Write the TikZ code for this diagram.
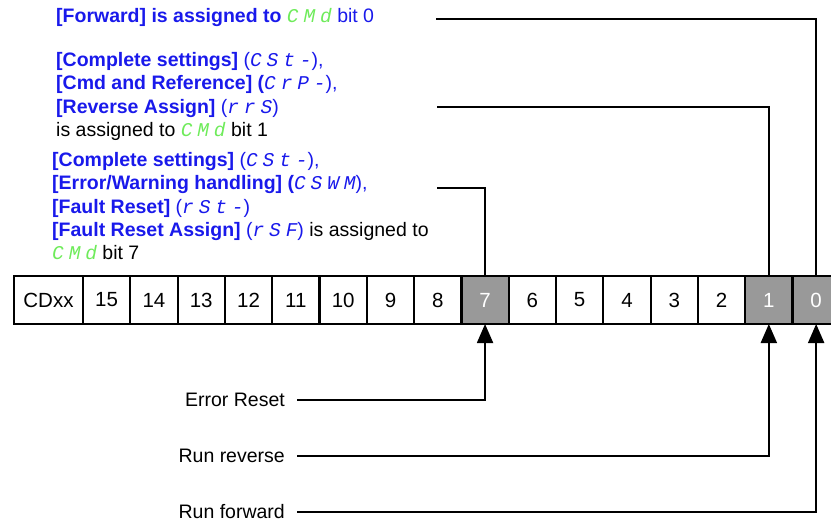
\documentclass[tikz,border=0pt]{standalone}
\usepackage{fontspec}
\setmainfont{Liberation Sans}
\newfontfamily\segfont{Liberation Mono}[LetterSpace=25]
\usetikzlibrary{positioning,arrows.meta}
\definecolor{codeblue}{RGB}{25,25,235}
\definecolor{codegreen}{RGB}{110,235,90}
\definecolor{bitgray}{RGB}{153,153,153}
\newcommand{\seg}[1]{{\segfont\itshape #1}}
\tikzset{%
  bitcell/.style={draw,line width=2.2pt,outer sep=0,inner sep=0,minimum width=47.3pt,minimum height=48pt,font=\fontsize{20.5}{24}\selectfont},
  setbit/.style={bitcell,fill=bitgray,text=white},
  note/.style={anchor=north west,align=left,inner sep=0,text=codeblue,font=\fontsize{19.5}{23.4}\selectfont},
  sig/.style={anchor=east,inner xsep=12pt,inner ysep=0,font=\fontsize{19.5}{23.4}\selectfont},
  wire/.style={line width=2pt},
  uparrow/.style={wire,-{Triangle[width=16pt,length=19pt]}}
}

\begin{document}
\begin{tikzpicture}[x=1pt,y=-1pt]
  \useasboundingbox (0,0) rectangle (831,523);
  % register
  \node[bitcell,minimum width=69pt,anchor=north west] (bCD) at (14,276) {CDxx};
  \node[bitcell,right=0pt of bCD] (b15) {15};
  \foreach \i in {14,...,0}{
    \pgfmathtruncatemacro\prev{\i+1}
    \ifnum\i=7 \def\cellstyle{setbit}\else\ifnum\i<2 \def\cellstyle{setbit}\else\def\cellstyle{bitcell}\fi\fi
    \node[\cellstyle,right=0pt of b\prev] (b\i) {\i};
  }
  % parameters
  \node[note] (fwdNote) at (56,8)
    {\textbf{[Forward] is assigned to} \textcolor{codegreen}{\seg{CMd}} bit 0};
  \node[note] (revNote) at (56,52)
    {\textbf{[Complete settings]} (\seg{CSt-}),\\
     \textbf{[Cmd and Reference] (}\seg{CrP-}),\\
     \textbf{[Reverse Assign]} (\seg{rrS})\\
     \textcolor{black}{is assigned to} \textcolor{codegreen}{\seg{CMd}} \textcolor{black}{bit 1}};
  \node[note] (rstNote) at (52,152)
    {\textbf{[Complete settings]} (\seg{CSt-}),\\
     \textbf{[Error/Warning handling] (}\seg{CSWM}),\\
     \textbf{[Fault Reset]} (\seg{rSt-})\\
     \textbf{[Fault Reset Assign]} (\seg{rSF}) \textcolor{black}{is assigned to}\\
     \textcolor{codegreen}{\seg{CMd}} \textcolor{black}{bit 7}};
  \coordinate (fwdTap) at (436,19);
  \coordinate (revTap) at (437,107);
  \coordinate (rstTap) at (437,188);
  \draw[wire] (fwdTap) -| (b0.north);
  \draw[wire] (revTap) -| (b1.north);
  \draw[wire] (rstTap) -| (b7.north);
  % commands
  \node[sig] (errReset) at (297,400) {Error Reset};
  \node[sig] (runRev) at (297,456) {Run reverse};
  \node[sig] (runFwd) at (297,512) {Run forward};
  \draw[uparrow] (errReset.east) -| (b7.south);
  \draw[uparrow] (runRev.east) -| (b1.south);
  \draw[uparrow] (runFwd.east) -| (b0.south);
\end{tikzpicture}
\end{document}
